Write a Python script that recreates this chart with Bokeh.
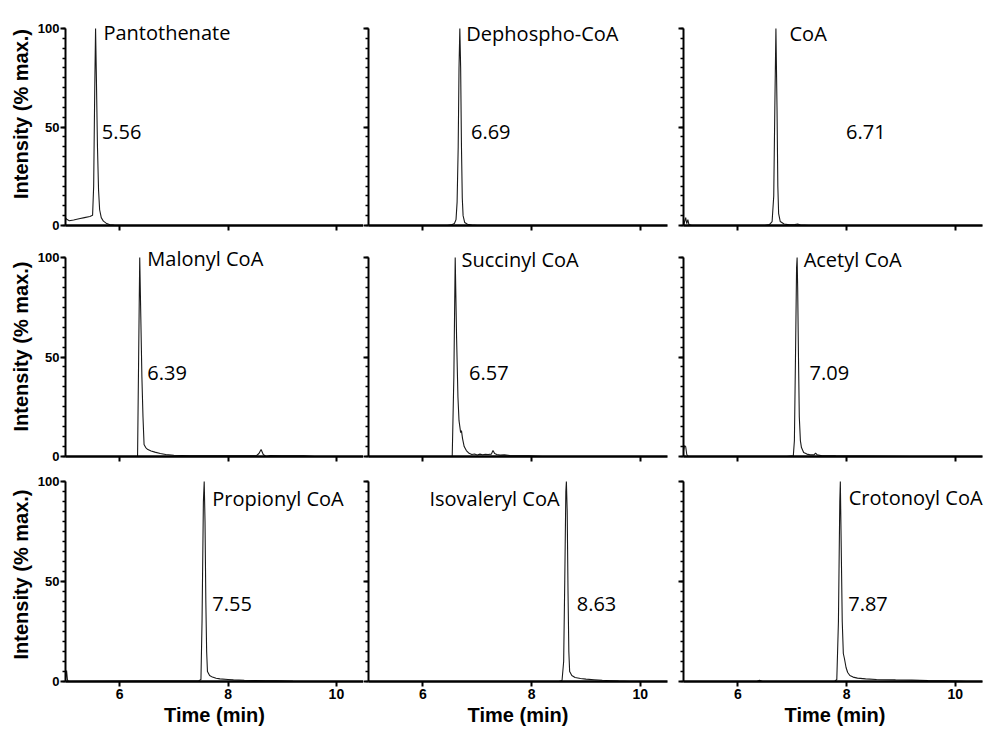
from bokeh.plotting import figure
from bokeh.layouts import gridplot
from bokeh.models import Range1d, FixedTicker, Label, ColumnDataSource
from bokeh.embed import file_html
from bokeh.resources import INLINE

# ---------------- data ----------------
compounds = ["Pantothenate", "Dephospho-CoA", "CoA",
             "Malonyl CoA", "Succinyl CoA", "Acetyl CoA",
             "Propionyl CoA", "Isovaleryl CoA", "Crotonoyl CoA"]
retention_labels = ["5.56", "6.69", "6.71", "6.39", "6.57", "7.09", "7.55", "8.63", "7.87"]

x_ticks = [6, 8, 10]
x_tick_labels = ["6", "8", "10"]
y_ticks = [0, 50, 100]
y_tick_labels = ["0", "50", "100"]
y_minor_ticks = [0, 5, 10, 15, 20, 25, 30, 35, 40, 45, 50, 55, 60, 65, 70, 75, 80, 85, 90, 95, 100]

pantothenate_time = [5.00, 5.03, 5.07, 5.15, 5.25, 5.35, 5.45, 5.50, 5.52, 5.54, 5.555, 5.57, 5.59, 5.61, 5.63, 5.66, 5.70, 5.75, 5.82, 5.90, 6.20, 10.40]
pantothenate_intensity = [3.8, 3.0, 2.4, 2.8, 3.4, 4.0, 4.6, 5.2, 20, 70, 100, 75, 40, 18, 8, 4, 2.2, 1.2, 0.4, 0.1, 0, 0]

dephospho_time = [5.00, 6.45, 6.52, 6.58, 6.61, 6.63, 6.65, 6.665, 6.68, 6.695, 6.71, 6.725, 6.74, 6.77, 6.82, 6.90, 7.00, 10.50]
dephospho_intensity = [0, 0, 0.3, 1.0, 3, 12, 40, 80, 100, 80, 40, 14, 5, 1.5, 0.6, 0.2, 0, 0]

coa_time = [5.00, 5.02, 5.04, 5.06, 5.08, 5.10, 5.15, 6.50, 6.58, 6.63, 6.66, 6.68, 6.70, 6.72, 6.735, 6.75, 6.78, 6.85, 6.95, 7.05, 7.10, 7.15, 7.30, 10.50]
coa_intensity = [0, 2, 4, 1, 3, 0.5, 0, 0, 0.5, 2, 15, 60, 100, 60, 20, 6, 2, 0.8, 0.3, 0.5, 0.8, 0.2, 0, 0]

malonyl_time = [5.00, 6.33, 6.35, 6.37, 6.39, 6.41, 6.43, 6.45, 6.48, 6.52, 6.58, 6.65, 6.75, 6.85, 7.00, 7.30, 7.80, 8.30, 8.52, 8.57, 8.61, 8.65, 8.70, 8.78, 9.00, 9.40, 9.60, 10.40]
malonyl_intensity = [0, 0, 50, 100, 70, 40, 20, 6, 4.5, 3.5, 2.8, 2.2, 1.5, 1.0, 0.6, 0.4, 0.3, 0.3, 0.3, 1.5, 3.5, 1.0, 0, 0.5, 0.4, 0.3, 0, 0]

succinyl_time = [5.00, 6.54, 6.57, 6.595, 6.62, 6.645, 6.665, 6.68, 6.695, 6.71, 6.73, 6.76, 6.80, 6.85, 6.90, 6.95, 7.00, 7.05, 7.10, 7.15, 7.20, 7.26, 7.29, 7.32, 7.36, 7.42, 7.50, 7.60, 7.75, 7.95, 8.20, 10.50]
succinyl_intensity = [0, 0, 40, 100, 60, 30, 18, 15, 12, 13, 9, 5, 3, 1.6, 1.0, 1.3, 0.8, 1.2, 0.9, 1.1, 1.0, 1.2, 3.0, 1.5, 1.0, 0.7, 0.8, 0.5, 0.4, 0.3, 0, 0]

acetyl_time = [5.00, 5.02, 5.04, 5.06, 5.09, 6.90, 7.02, 7.04, 7.06, 7.08, 7.09, 7.10, 7.115, 7.13, 7.15, 7.17, 7.21, 7.27, 7.33, 7.40, 7.43, 7.46, 7.55, 7.80, 8.30, 8.80, 9.20, 10.50]
acetyl_intensity = [3, 5.5, 5, 1, 0, 0, 0.3, 8, 50, 95, 100, 85, 50, 20, 8, 4.5, 2, 1.2, 0.8, 0.8, 1.7, 0.8, 0.4, 0.3, 0.2, 0.1, 0, 0]

propionyl_time = [5.00, 5.02, 5.035, 5.05, 6.30, 7.00, 7.45, 7.50, 7.52, 7.545, 7.56, 7.575, 7.59, 7.605, 7.62, 7.66, 7.71, 7.78, 7.85, 8.00, 8.10, 8.30, 8.50, 8.70, 8.90, 9.20, 9.60, 10.50]
propionyl_intensity = [0.5, 5.5, 1, 0, 0.2, 0.2, 0.2, 1, 30, 90, 100, 80, 40, 15, 5, 3, 2.2, 1.6, 1.3, 1.0, 0.8, 0.6, 0.5, 0.4, 0.3, 0.1, 0, 0]

isovaleryl_time = [5.00, 8.50, 8.56, 8.59, 8.61, 8.63, 8.64, 8.655, 8.67, 8.685, 8.70, 8.74, 8.80, 8.90, 9.00, 9.15, 9.30, 9.45, 9.60, 9.80, 10.50]
isovaleryl_intensity = [0, 0, 0.5, 10, 50, 95, 100, 85, 45, 15, 5, 3, 2, 1.5, 1.2, 0.9, 0.6, 0.4, 0.2, 0, 0]

crotonoyl_time = [5.00, 6.35, 6.40, 6.45, 7.78, 7.82, 7.85, 7.875, 7.885, 7.90, 7.92, 7.94, 7.96, 7.99, 8.02, 8.06, 8.12, 8.20, 8.35, 8.55, 8.90, 9.20, 9.50, 9.80, 10.00, 10.20, 10.50]
crotonoyl_intensity = [0, 0, 0.6, 0, 0, 1, 30, 90, 100, 70, 30, 14, 11.5, 7, 4.5, 3, 2.2, 1.7, 1.3, 1.0, 0.8, 0.7, 0.5, 0.4, 0.2, 0, 0]

traces_time = [pantothenate_time, dephospho_time, coa_time,
               malonyl_time, succinyl_time, acetyl_time,
               propionyl_time, isovaleryl_time, crotonoyl_time]
traces_intensity = [pantothenate_intensity, dephospho_intensity, coa_intensity,
                    malonyl_intensity, succinyl_intensity, acetyl_intensity,
                    propionyl_intensity, isovaleryl_intensity, crotonoyl_intensity]

# ---------------- layout / style ----------------
name_pos = [(5.70, 98), (6.80, 97.5), (6.95, 97.5),
            (6.51, 99.5), (6.71, 99), (7.21, 99),
            (7.71, 91.5), (6.12, 91.5), (8.04, 92)]
rt_pos = [(5.67, 47.4), (6.885, 47.4), (7.99, 47.4),
          (6.51, 42), (6.85, 42), (7.32, 42),
          (7.71, 39), (8.83, 39), (8.03, 39)]

X_START, X_BOUND_END = 5.0, 10.5
col_left = [65, 5, 8]
col_frame = [298, 299, 303]
col_right = [0, 8, 0]
col_px_per_unit = [298 / 5.5, 299 / 5.5, 299 / 5.5]

row_top = [2, 2, 2]
row_frame = [223, 220, 214]
row_bottom = [9, 9, 47]
row_px_per_100 = [197, 199, 200]

AX_FONT = "Liberation Sans"
TXT_FONT = "Open Sans"

rows = []
for r in range(3):
    row = []
    for c in range(3):
        i = r * 3 + c
        x_end = X_START + col_frame[c] / col_px_per_unit[c]
        y_end = 100.0 * row_frame[r] / row_px_per_100[r]
        p = figure(width=col_left[c] + col_frame[c] + col_right[c],
                   height=row_top[r] + row_frame[r] + row_bottom[r],
                   x_range=Range1d(X_START, x_end), y_range=Range1d(0, y_end),
                   output_backend="svg", toolbar_location=None, title=None,
                   min_border_left=col_left[c], min_border_right=col_right[c],
                   min_border_top=row_top[r], min_border_bottom=row_bottom[r])
        p.outline_line_color = None
        p.xgrid.visible = False
        p.ygrid.visible = False
        p.background_fill_color = "white"
        p.border_fill_color = "white"

        src = ColumnDataSource(dict(t=traces_time[i], y=traces_intensity[i]))
        p.line("t", "y", source=src, line_color="#1a1a1a", line_width=1.1)

        # x axis
        xa = p.xaxis[0]
        xa.bounds = (X_START, X_BOUND_END)
        xa.ticker = FixedTicker(ticks=x_ticks, minor_ticks=[])
        xa.axis_line_width = 2.5
        xa.axis_line_color = "black"
        xa.major_tick_line_width = 2
        xa.major_tick_out = 5
        xa.major_tick_in = 0
        xa.minor_tick_out = 0
        if r == 2:
            xa.major_label_overrides = {t: s for t, s in zip(x_ticks, x_tick_labels)}
            xa.major_label_text_font = AX_FONT
            xa.major_label_text_font_style = "bold"
            xa.major_label_text_font_size = "14px"
            xa.major_label_text_color = "black"
            xa.major_label_standoff = 2
            xa.axis_label = "Time (min)"
            xa.axis_label_text_font = AX_FONT
            xa.axis_label_text_font_style = "bold"
            xa.axis_label_text_font_size = "20px"
            xa.axis_label_text_color = "black"
            xa.axis_label_standoff = 2
        else:
            xa.major_label_overrides = {t: "" for t in x_ticks}
            xa.major_label_text_font_size = "0px"
            xa.major_label_standoff = 0

        # y axis
        ya = p.yaxis[0]
        ya.bounds = (0, 100)
        ya.ticker = FixedTicker(ticks=y_ticks, minor_ticks=y_minor_ticks)
        ya.axis_line_width = 2
        ya.axis_line_color = "black"
        ya.major_tick_line_width = 2
        ya.major_tick_out = 5
        ya.major_tick_in = 0
        ya.minor_tick_line_width = 1.5
        ya.minor_tick_out = 3
        ya.minor_tick_in = 0
        if c == 0:
            ya.major_label_overrides = {t: s for t, s in zip(y_ticks, y_tick_labels)}
            ya.major_label_text_font = AX_FONT
            ya.major_label_text_font_style = "bold"
            ya.major_label_text_font_size = "13px"
            ya.major_label_text_color = "black"
            ya.major_label_standoff = 1
            ya.axis_label = "Intensity (% max.)"
            ya.axis_label_text_font = AX_FONT
            ya.axis_label_text_font_style = "bold"
            ya.axis_label_text_font_size = "20px"
            ya.axis_label_text_color = "black"
            ya.axis_label_standoff = 3
        else:
            ya.major_label_overrides = {t: "" for t in y_ticks}
            ya.major_label_text_font_size = "0px"
            ya.major_label_standoff = 0

        nx, ny = name_pos[i]
        p.add_layout(Label(x=nx, y=ny, text=compounds[i], text_font=TXT_FONT,
                           text_font_size="20px", text_color="black",
                           text_baseline="alphabetic", text_align="left"))
        rx, ry = rt_pos[i]
        p.add_layout(Label(x=rx, y=ry, text=retention_labels[i], text_font=TXT_FONT,
                           text_font_size="20px", text_color="black",
                           text_baseline="alphabetic", text_align="left"))
        row.append(p)
    rows.append(row)

grid = gridplot(rows, toolbar_location=None)

open("out.html", "w").write(file_html(grid, INLINE))
